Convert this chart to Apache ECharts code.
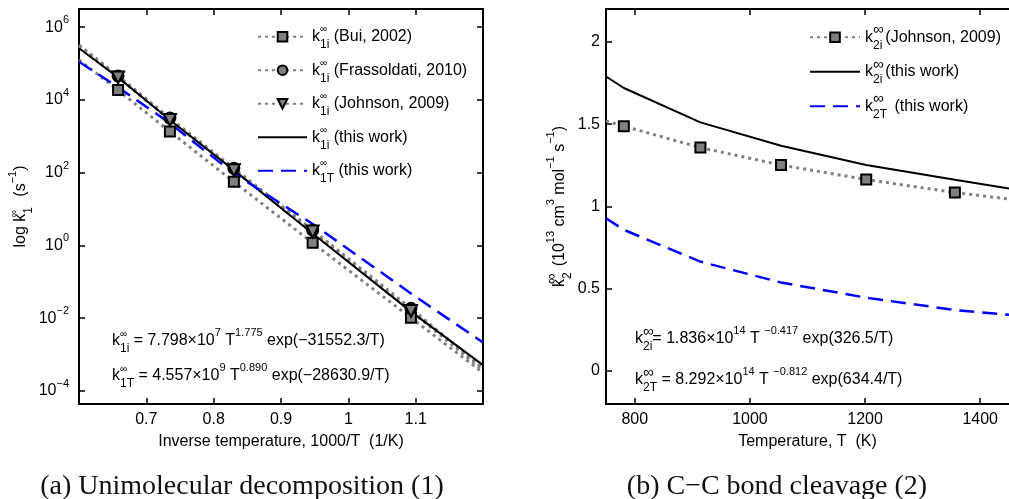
<!DOCTYPE html>
<html><head><meta charset="utf-8">
<script src="https://cdn.jsdelivr.net/npm/echarts@6/dist/echarts.min.js"></script>
<style>html,body{margin:0;padding:0;background:#fff}#c{width:1009px;height:499px}</style>
</head><body><div id="c"></div>
<script>
// ---------------- data (panel a) : log10 of rate constant vs 1000/T ----------------
const invT_marks = [0.658, 0.735, 0.830, 0.947, 1.093];
const invT_ends = [0.6, 1.2];
const bui_log = [4.27, 3.13, 1.75, 0.07, -1.99];
const bui_ends = [5.10, -3.50];
const frass_log = [4.66, 3.50, 2.12, 0.42, -1.73];
const frass_ends = [5.51, -3.38];
const john1_log = [4.62, 3.45, 2.07, 0.38, -1.80];
const john1_ends = [5.47, -3.43];
const invT_fit = [0.6, 0.658, 0.735, 0.830, 0.947, 1.093, 1.2];
const k1i_log = [5.42, 4.62, 3.45, 2.07, 0.33, -1.82, -3.29];
const k1T_log = [5.05, 4.35, 3.36, 1.98, 0.59, -1.32, -2.67];
const logTicks = [-4, -2, 0, 2, 4, 6];
const invTTicks = [0.7, 0.8, 0.9, 1, 1.1];

// ---------------- data (panel b) : k2 in 1e13 cm3/mol/s vs T ----------------
const T_marks = [781, 914, 1054, 1202, 1356];
const john2_vals = [1.488, 1.358, 1.252, 1.164, 1.085];
const T_ends = [750, 1450];
const john2_ends = [1.52, 1.045];
const T_fit = [750, 781, 914, 1054, 1202, 1356, 1450];
const k2i_vals = [1.79, 1.72, 1.511, 1.369, 1.252, 1.162, 1.11];
const k2T_vals = [0.929, 0.858, 0.665, 0.538, 0.446, 0.371, 0.342];
const TTicks = [800, 1000, 1200, 1400];
const k2Ticks = [0, 0.5, 1, 1.5, 2];

// ---------------- styling ----------------
const FONT = '"Liberation Sans", Arial, Helvetica, sans-serif';
const GRAY = '#808080', BLUE = '#0000ff';
function richSet() {
  return {
    n: {fontSize: 16, lineHeight: 20, fontFamily: FONT, color: '#000'},
    inf: {fontSize: 10, lineHeight: 10, width: 0, padding: [0, 0, 14, 0], fontFamily: FONT, color: '#000'},
    inf2: {fontSize: 15, lineHeight: 14, width: 0, padding: [0, 0, 14, 0], fontFamily: FONT, color: '#000'},
    sub: {fontSize: 12, lineHeight: 12, padding: [16, 0, 0, 0], fontFamily: FONT, color: '#000'},
    sub2: {fontSize: 12, lineHeight: 12, padding: [16, 3, 0, 0], fontFamily: FONT, color: '#000'},
    subw: {fontSize: 12, lineHeight: 12, padding: [16, 6, 0, 0], fontFamily: FONT, color: '#000'},
    sup: {fontSize: 11, lineHeight: 11, padding: [0, 0, 16, 0], fontFamily: FONT, color: '#000'}
  };
}
const labels = {
  bui: '{n|k}{inf|∞}{sub|1i}{n| (Bui, 2002)}',
  frass: '{n|k}{inf|∞}{sub|1i}{n| (Frassoldati, 2010)}',
  john1: '{n|k}{inf|∞}{sub|1i}{n| (Johnson, 2009)}',
  k1i: '{n|k}{inf|∞}{sub|1i}{n| (this work)}',
  k1T: '{n|k}{inf|∞}{sub|1T}{n| (this work)}',
  john2: '{n|k}{inf2|∞}{sub2|2i}{n|(Johnson, 2009)}',
  k2i: '{n|k}{inf2|∞}{sub2|2i}{n|(this work)}',
  k2T: '{n|k}{inf2|∞}{sub2|2T}{n| (this work)}'
};

function withEnds(xs, ys, xe, ye) {
  const d = [{value: [xe[0], ye[0]], symbol: 'none'}];
  xs.forEach((x, i) => d.push([x, ys[i]]));
  d.push({value: [xe[1], ye[1]], symbol: 'none'});
  return d;
}
const pairs = (xs, ys) => xs.map((x, i) => [x, ys[i]]);

const axisLineStyle = {color: '#000', width: 2};
const tickStyle = {color: '#000', width: 1.5};
const labelBase = {fontSize: 16, color: '#000', fontFamily: FONT};
function mirror(grid, pos, ticks, min, max) {
  return {gridIndex: grid, type: 'value', position: pos, min, max,
    axisLine: {show: true, onZero: false, lineStyle: axisLineStyle},
    axisTick: {show: true, inside: true, length: 6, customValues: ticks, lineStyle: tickStyle},
    axisLabel: {show: false}, splitLine: {show: false}};
}
const expLabel = v => '{b|10}{e|' + (v < 0 ? '−' + (-v) : v) + '}';
const plain = v => String(v);

const markerStyle = {color: GRAY, borderColor: '#000', borderWidth: 2};
const dotted = {color: GRAY, width: 3, type: [3, 4], cap: 'butt'};
const dashed = {color: BLUE, width: 2.5, type: [15, 8], cap: 'butt'};
const solid = {color: '#000', width: 2};
const hiddenItem = {color: 'rgba(0,0,0,0)', borderWidth: 0};

const chart = echarts.init(document.getElementById('c'), null, {renderer: 'canvas'});
const option = {
  animation: false,
  backgroundColor: '#fff',
  textStyle: {fontFamily: FONT},
  grid: [
    {left: 79, top: 9, width: 404, height: 395},
    {left: 606, top: 9, width: 412, height: 395}
  ],
  xAxis: [
    {gridIndex: 0, type: 'value', position: 'bottom', min: 0.6, max: 1.2,
      axisLine: {show: true, onZero: false, lineStyle: axisLineStyle},
      axisTick: {show: true, inside: true, length: 6, customValues: invTTicks, lineStyle: tickStyle},
      axisLabel: Object.assign({customValues: invTTicks, margin: 8, formatter: plain}, labelBase),
      splitLine: {show: false},
      name: 'Inverse temperature, 1000/T  (1/K)', nameLocation: 'middle', nameGap: 28,
      nameTextStyle: Object.assign({lineHeight: 18}, labelBase)},
    mirror(0, 'top', invTTicks, 0.6, 1.2),
    {gridIndex: 1, type: 'value', position: 'bottom', min: 750, max: 1450,
      axisLine: {show: true, onZero: false, lineStyle: axisLineStyle},
      axisTick: {show: true, inside: true, length: 6, customValues: TTicks, lineStyle: tickStyle},
      axisLabel: Object.assign({customValues: TTicks, margin: 8, formatter: plain}, labelBase),
      splitLine: {show: false},
      name: 'Temperature, T  (K)', nameLocation: 'middle', nameGap: 28,
      nameTextStyle: Object.assign({lineHeight: 18}, labelBase)},
    mirror(1, 'top', TTicks, 750, 1450)
  ],
  yAxis: [
    {gridIndex: 0, type: 'value', position: 'left', min: -4.36, max: 6.5,
      axisLine: {show: true, onZero: false, lineStyle: axisLineStyle},
      axisTick: {show: true, inside: true, length: 6, customValues: logTicks, lineStyle: tickStyle},
      axisLabel: {customValues: logTicks, margin: 10, formatter: expLabel,
        rich: {b: {fontSize: 16, fontFamily: FONT, color: '#000', lineHeight: 20},
               e: {fontSize: 11, fontFamily: FONT, color: '#000', lineHeight: 11, padding: [0, 0, 14, 0]}}},
      splitLine: {show: false},
      name: '{n|log k}{inf|∞}{subw|1}{n| (s}{sup|−1}{n|)}', nameLocation: 'middle', nameGap: 45, nameRotate: 90,
      nameTextStyle: {rich: richSet()}},
    mirror(0, 'right', logTicks, -4.36, 6.5),
    {gridIndex: 1, type: 'value', position: 'left', min: -0.2, max: 2.2,
      axisLine: {show: true, onZero: false, lineStyle: axisLineStyle},
      axisTick: {show: true, inside: true, length: 6, customValues: k2Ticks, lineStyle: tickStyle},
      axisLabel: Object.assign({customValues: k2Ticks, margin: 6, formatter: plain}, labelBase),
      splitLine: {show: false},
      name: '{n|k}{inf2|∞}{subw|2}{n|(10}{sup|13}{n| cm}{sup|3}{n| mol}{sup|−1}{n| s}{sup|−1}{n|)}',
      nameLocation: 'middle', nameGap: 35, nameRotate: 90,
      nameTextStyle: {rich: richSet()}}
  ],
  legend: [
    {orient: 'vertical', left: 257, top: 22.7, itemWidth: 49, itemHeight: 12, itemGap: 5.5, padding: 0,
      selectedMode: false, data: ['bui', 'frass', 'john1', 'k1i', 'k1T'],
      formatter: n => labels[n], textStyle: {rich: richSet()}},
    {orient: 'vertical', left: 809, top: 22.7, itemWidth: 50, itemHeight: 12, itemGap: 5.5, padding: 0,
      selectedMode: false, data: ['john2', 'k2i', 'k2T'],
      formatter: n => labels[n], textStyle: {rich: richSet()}}
  ],
  series: [
    {name: 'bui', type: 'line', xAxisIndex: 0, yAxisIndex: 0, symbol: 'rect', symbolSize: 10,
      data: withEnds(invT_marks, bui_log, invT_ends, bui_ends), itemStyle: markerStyle, lineStyle: dotted},
    {name: 'frass', type: 'line', xAxisIndex: 0, yAxisIndex: 0, symbol: 'circle', symbolSize: 11,
      data: withEnds(invT_marks, frass_log, invT_ends, frass_ends), itemStyle: markerStyle, lineStyle: dotted},
    {name: 'john1', type: 'line', xAxisIndex: 0, yAxisIndex: 0, symbol: 'triangle', symbolRotate: 180, symbolSize: 12,
      data: withEnds(invT_marks, john1_log, invT_ends, john1_ends), itemStyle: markerStyle, lineStyle: dotted},
    {name: 'k1i', type: 'line', xAxisIndex: 0, yAxisIndex: 0, symbol: 'circle', showSymbol: false,
      data: pairs(invT_fit, k1i_log), itemStyle: hiddenItem, lineStyle: solid},
    {name: 'k1T', type: 'line', xAxisIndex: 0, yAxisIndex: 0, symbol: 'circle', showSymbol: false,
      data: pairs(invT_fit, k1T_log), itemStyle: hiddenItem, lineStyle: dashed},
    {name: 'john2', type: 'line', xAxisIndex: 2, yAxisIndex: 2, symbol: 'rect', symbolSize: 10,
      data: withEnds(T_marks, john2_vals, T_ends, john2_ends), itemStyle: markerStyle, lineStyle: dotted},
    {name: 'k2i', type: 'line', xAxisIndex: 2, yAxisIndex: 2, symbol: 'circle', showSymbol: false,
      data: pairs(T_fit, k2i_vals), itemStyle: hiddenItem, lineStyle: solid},
    {name: 'k2T', type: 'line', xAxisIndex: 2, yAxisIndex: 2, symbol: 'circle', showSymbol: false,
      data: pairs(T_fit, k2T_vals), itemStyle: hiddenItem, lineStyle: dashed}
  ],
  graphic: [
    {type: 'text', x: 112, y: 341, style: {text: '{n|k}{inf|∞}{sub|1i}{n| = 7.798×10}{sup|7}{n| T}{sup|1.775}{n| exp(−31552.3/T)}', rich: richSet(), verticalAlign: 'middle'}},
    {type: 'text', x: 112, y: 376, style: {text: '{n|k}{inf|∞}{sub|1T}{n| = 4.557×10}{sup|9}{n| T}{sup|0.890}{n| exp(−28630.9/T)}', rich: richSet(), verticalAlign: 'middle'}},
    {type: 'text', x: 635, y: 339, style: {text: '{n|k}{inf2|∞}{sub|2i}{n|= 1.836×10}{sup|14}{n| T }{sup|−0.417}{n| exp(326.5/T)}', rich: richSet(), verticalAlign: 'middle'}},
    {type: 'text', x: 635, y: 380, style: {text: '{n|k}{inf2|∞}{sub|2T}{n| = 8.292×10}{sup|14}{n| T }{sup|−0.812}{n| exp(634.4/T)}', rich: richSet(), verticalAlign: 'middle'}},
    {type: 'text', x: 242, y: 487, style: {text: '(a) Unimolecular decomposition (1)', font: '28px "Liberation Serif", "Times New Roman", serif', fill: '#111', align: 'center', verticalAlign: 'middle'}},
    {type: 'text', x: 777, y: 487, style: {text: '(b) C−C bond cleavage (2)', font: '28px "Liberation Serif", "Times New Roman", serif', fill: '#111', align: 'center', verticalAlign: 'middle'}}
  ]
};
chart.setOption(option);
</script>
</body></html>
